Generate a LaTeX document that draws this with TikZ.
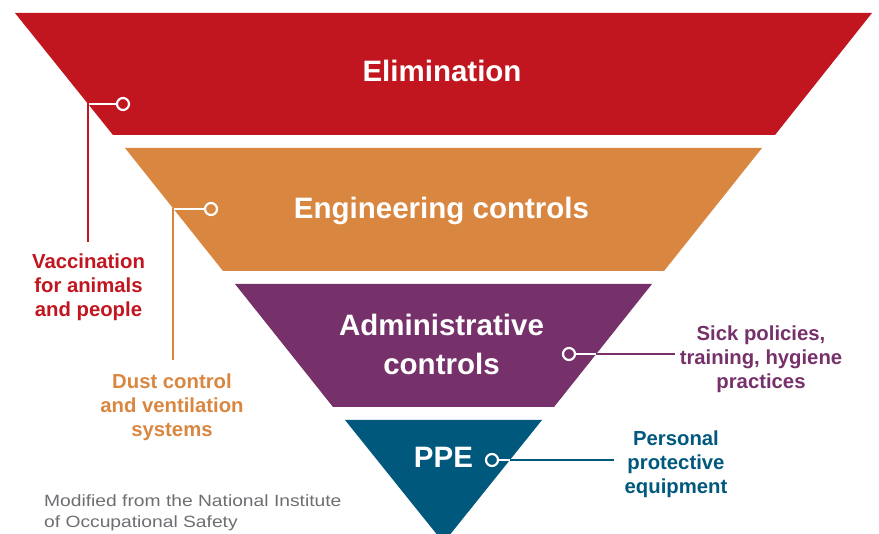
\documentclass[tikz,border=0pt]{standalone}
\usepackage{fontspec}
\setmainfont{Liberation Sans}
\newfontfamily\footfont[FakeStretch=1.18]{Liberation Sans}
\definecolor{elimred}{RGB}{193,21,31}
\definecolor{engorange}{RGB}{217,135,64}
\definecolor{admpurple}{RGB}{118,49,106}
\definecolor{ppeblue}{RGB}{0,88,125}
\definecolor{footgray}{RGB}{109,110,113}
\begin{document}
\begin{tikzpicture}[x=1pt,y=-1pt,
  heading/.style={text=white,font=\fontsize{29.5}{39}\selectfont\bfseries,inner sep=0pt,align=center},
  label/.style={font=\fontsize{20.3}{24}\selectfont\bfseries,inner sep=0pt,align=center,anchor=north},
  dot/.style={circle,draw=white,line width=2.2pt,minimum size=12pt,inner sep=0pt},
  wline/.style={draw=white,line width=2.4pt},
  cline/.style={line width=2.4pt}]
\useasboundingbox (0,0) rectangle (879,534);
\clip (0,0) rectangle (879,534);
% bands
\fill[elimred] (15,13) -- (872,13) -- (775,135) -- (113,135) -- cycle;
\fill[engorange] (125,148) -- (762,148) -- (664,271) -- (223,271) -- cycle;
\fill[admpurple] (235,284) -- (652,284) -- (554,407) -- (333,407) -- cycle;
\fill[ppeblue] (345,420) -- (542,420) -- (443.5,542.7) -- cycle;
% headings
\node[heading,anchor=base] (elim) at (442,82) {Elimination};
\node[heading,anchor=base] (eng) at (441.5,219) {Engineering controls};
\node[heading,anchor=north] (adm) at (441.5,314) {Administrative\\controls};
\node[heading,anchor=base] (ppe) at (443.5,468) {PPE};
% callout dots
\node[dot,fill=elimred] (d1) at (123,104) {};
\node[dot,fill=engorange] (d2) at (211,209) {};
\node[dot,fill=admpurple] (d3) at (569,354) {};
\node[dot,fill=ppeblue] (d4) at (492,460) {};
% corners and ends
\coordinate (k1) at (88,104);
\coordinate (e1) at (88,242);
\coordinate (k2) at (173,209);
\coordinate (e2) at (173,360);
\coordinate (k3) at (596,354);
\coordinate (e3) at (675,354);
\coordinate (k4) at (510,460);
\coordinate (e4) at (614,460);
% labels
\node[label,text=elimred] (l1) at (88.5,253.4) {Vaccination\\for animals\\and people};
\node[label,text=engorange] (l2) at (172,373.4) {Dust control\\and ventilation\\systems};
\node[label,text=admpurple] (l3) at (761,325.4) {Sick policies,\\training, hygiene\\practices};
\node[label,text=ppeblue] (l4) at (676,430.4) {Personal\\protective\\equipment};
% connectors
\draw[wline] (d1.west) -- (k1);
\draw[cline,elimred] ([yshift=1.2pt]k1) -- (e1);
\draw[wline] (d2.west) -- (k2);
\draw[cline,engorange] ([yshift=1.2pt]k2) -- (e2);
\draw[wline] (d3.east) -- (k3);
\draw[cline,admpurple] (k3) -- (e3);
\draw[wline] (d4.east) -- (k4);
\draw[cline,ppeblue] (k4) -- (e4);
% footnote
\node[anchor=north west,inner sep=0pt,align=left,text=footgray,font=\footfont\fontsize{16.3}{21.5}\selectfont] (foot) at (44,494) {Modified from the National Institute\\of Occupational Safety};
\end{tikzpicture}
\end{document}
